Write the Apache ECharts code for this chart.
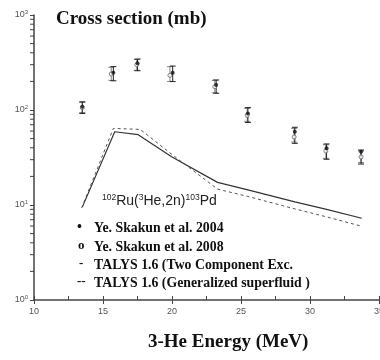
<!DOCTYPE html>
<html><head><meta charset="utf-8">
<script src="https://cdn.jsdelivr.net/npm/echarts@6/dist/echarts.min.js"></script>
<style>html,body{margin:0;padding:0;background:#fff}#c{width:380px;height:360px}</style>
</head><body><div id="c"></div>
<script>
// Experimental data: Ye. Skakun et al. 2004 (filled) and 2008 (open)
const energy2004 = [13.5, 15.75, 17.5, 20.05, 23.2, 25.5, 28.9, 31.2, 33.7];
const xs2004     = [108, 247, 310, 247, 183, 92, 59, 39.5, 36.4];
const xsLow2004  = [92, 203, 259, 199, 150, 74, 44.6, 30.3, 27];
const xsHigh2004 = [122, 286, 344, 290, 207, 106, 65.8, 43.9, 37.9];
const energy2008 = [13.5, 15.6, 17.45, 19.85, 23.1, 25.45, 28.85, 31.15, 33.7];
const xs2008     = [106, 240, 300, 232, 176, 88, 52, 37, 32];
const xsLow2008  = [94, 205, 262, 200, 152, 76, 46, 31, 28];
const xsHigh2008 = [120, 282, 340, 286, 205, 104, 64, 43, 37];
// TALYS 1.6 curves
const talysTwoCompEnergy = [13.5, 15.85, 17.55, 20, 23.3, 25.5, 28.9, 31.2, 33.75];
const talysTwoComp       = [9.5, 59, 55, 32, 17.3, 14.4, 10.8, 9.0, 7.25];
const talysGenSfEnergy   = [13.45, 15.75, 17.7, 20, 23.3, 25.5, 28.9, 31.2, 33.7];
const talysGenSf         = [9.3, 64, 62.5, 34, 14.7, 12.3, 9.1, 7.5, 6.0];
// axis tick values
const yMinorTicks = [2,3,4,5,6,7,8,9,20,30,40,50,60,70,80,90,200,300,400,500,600,700,800,900];
const xTickLabels = ['10','15','20','25','30','35'];

const chart = echarts.init(document.getElementById('c'));
const serif = '"Liberation Serif", "Times New Roman", serif';
const sans = '"Liberation Sans", Arial, sans-serif';

function errData(E, v, lo, hi){ return E.map((e,i)=>[e, v[i], lo[i], hi[i]]); }
function errRender(color){
  return function(params, api){
    const x = api.value(0);
    const pLo = api.coord([x, api.value(2)]);
    const pHi = api.coord([x, api.value(3)]);
    const w = 3;
    const st = {stroke: color, lineWidth: 1};
    return {type:'group', children:[
      {type:'line', shape:{x1:pLo[0], y1:pLo[1], x2:pHi[0], y2:pHi[1]}, style:st},
      {type:'line', shape:{x1:pLo[0]-w, y1:pLo[1], x2:pLo[0]+w, y2:pLo[1]}, style:st},
      {type:'line', shape:{x1:pHi[0]-w, y1:pHi[1], x2:pHi[0]+w, y2:pHi[1]}, style:st}
    ]};
  };
}

const option = {
  animation: false,
  backgroundColor: '#fff',
  title: {
    text: 'Cross section (mb)', left: 51, top: 5,
    textStyle: {fontFamily: serif, fontWeight: 'bold', fontSize: 19, color: '#111'}
  },
  grid: {left: 34, right: 1, top: 15, bottom: 60, containLabel: false, outerBoundsMode: 'none'},
  xAxis: [{
    type: 'value', min: 10, max: 35, interval: 5,
    axisLine: {show: true, lineStyle: {color: '#444', width: 1.5}},
    axisTick: {show: true, inside: false, length: 4, lineStyle: {color: '#444'}},
    axisLabel: {color: '#555', fontSize: 9, fontFamily: sans, margin: 7, hideOverlap: false,
      formatter: v => xTickLabels[Math.round((v - 10) / 5)] || ''},
    splitLine: {show: false}
  }, {
    type: 'value', min: 10, max: 35, interval: 2.5, position: 'bottom',
    axisLine: {show: false},
    axisTick: {show: true, inside: true, length: 4, lineStyle: {color: '#444'}},
    axisLabel: {show: false}, splitLine: {show: false}
  }],
  yAxis: {
    type: 'log', logBase: 10, min: 1, max: 1000,
    axisLine: {show: true, lineStyle: {color: '#444', width: 1.5}},
    axisTick: {show: true, inside: false, length: 4, lineStyle: {color: '#444'}},
    axisLabel: {
      margin: 6, color: '#555', fontFamily: sans,
      formatter: v => '{b|10}{s|' + Math.round(Math.log10(v)) + '}',
      rich: {b: {fontSize: 9, color: '#555'}, s: {fontSize: 6, color: '#555', padding: [0,0,6,0]}}
    },
    splitLine: {show: false}, minorTick: {show: false}
  },
  series: [
    {
      type: 'custom', name: 'yminor', xAxisIndex: 0, clip: false, silent: true, z: 10,
      data: yMinorTicks.map(v => [10, v]),
      encode: {x: 0, y: 1},
      renderItem: (params, api) => {
        const p = api.coord([api.value(0), api.value(1)]);
        return {type: 'line', shape: {x1: p[0]-4, y1: p[1], x2: p[0], y2: p[1]}, style: {stroke: '#444', lineWidth: 1}};
      }
    },
    {
      type: 'line', name: 'TALYS 1.6 (Two Component Exc.)',
      data: talysTwoCompEnergy.map((e,i)=>[e, talysTwoComp[i]]),
      showSymbol: false, lineStyle: {color: '#333', width: 1.2, type: 'solid'}
    },
    {
      type: 'line', name: 'TALYS 1.6 (Generalized superfluid )',
      data: talysGenSfEnergy.map((e,i)=>[e, talysGenSf[i]]),
      showSymbol: false, lineStyle: {color: '#555', width: 1, type: [3,3]}
    },
    {
      type: 'custom', name: 'err2008', renderItem: errRender('#888'),
      data: errData(energy2008, xs2008, xsLow2008, xsHigh2008), encode: {x: 0, y: [1,2,3]}
    },
    {
      type: 'custom', name: 'err2004', renderItem: errRender('#222'),
      data: errData(energy2004, xs2004, xsLow2004, xsHigh2004), encode: {x: 0, y: [1,2,3]}
    },
    {
      type: 'scatter', name: 'Ye. Skakun et al. 2008',
      data: energy2008.map((e,i)=>[e, xs2008[i]]),
      symbol: 'circle', symbolSize: 4,
      itemStyle: {color: '#fff', borderColor: '#666', borderWidth: 1}
    },
    {
      type: 'scatter', name: 'Ye. Skakun et al. 2004',
      data: energy2004.map((e,i)=>[e, xs2004[i]]),
      symbol: 'circle', symbolSize: 4, itemStyle: {color: '#111'}
    }
  ],
  graphic: [
    {type: 'text', left: 102, top: 193, style: {
      text: '{s|102}{m|Ru(}{s|3}{m|He,2n)}{s|103}{m|Pd}',
      rich: {m: {fontSize: 14, fontFamily: sans, fill: '#222', color: '#222'},
             s: {fontSize: 8.5, fontFamily: sans, fill: '#222', color: '#222', padding: [0,0,7,0]}}
    }},
    {type: 'text', left: 77, top: 220, style: {text: '•', font: 'bold 14px ' + serif, fill: '#111'}},
    {type: 'text', left: 94, top: 221, style: {text: 'Ye. Skakun et al. 2004', font: 'bold 13.8px ' + serif, fill: '#111'}},
    {type: 'text', left: 78, top: 239, style: {text: 'o', font: 'bold 13px ' + serif, fill: '#111'}},
    {type: 'text', left: 94, top: 240, style: {text: 'Ye. Skakun et al. 2008', font: 'bold 13.8px ' + serif, fill: '#111'}},
    {type: 'text', left: 79, top: 257, style: {text: '-', font: 'bold 13px ' + serif, fill: '#111'}},
    {type: 'text', left: 94, top: 258, style: {text: 'TALYS 1.6 (Two Component Exc.', font: 'bold 13.8px ' + serif, fill: '#111'}},
    {type: 'text', left: 77, top: 275, style: {text: '--', font: 'bold 13px ' + serif, fill: '#111'}},
    {type: 'text', left: 94, top: 276, style: {text: 'TALYS 1.6 (Generalized superfluid )', font: 'bold 13.8px ' + serif, fill: '#111'}},
    {type: 'text', left: 148, top: 333, style: {text: '3-He Energy (MeV)', font: 'bold 19px ' + serif, fill: '#111'}}
  ]
};
chart.setOption(option);
</script>
</body></html>
